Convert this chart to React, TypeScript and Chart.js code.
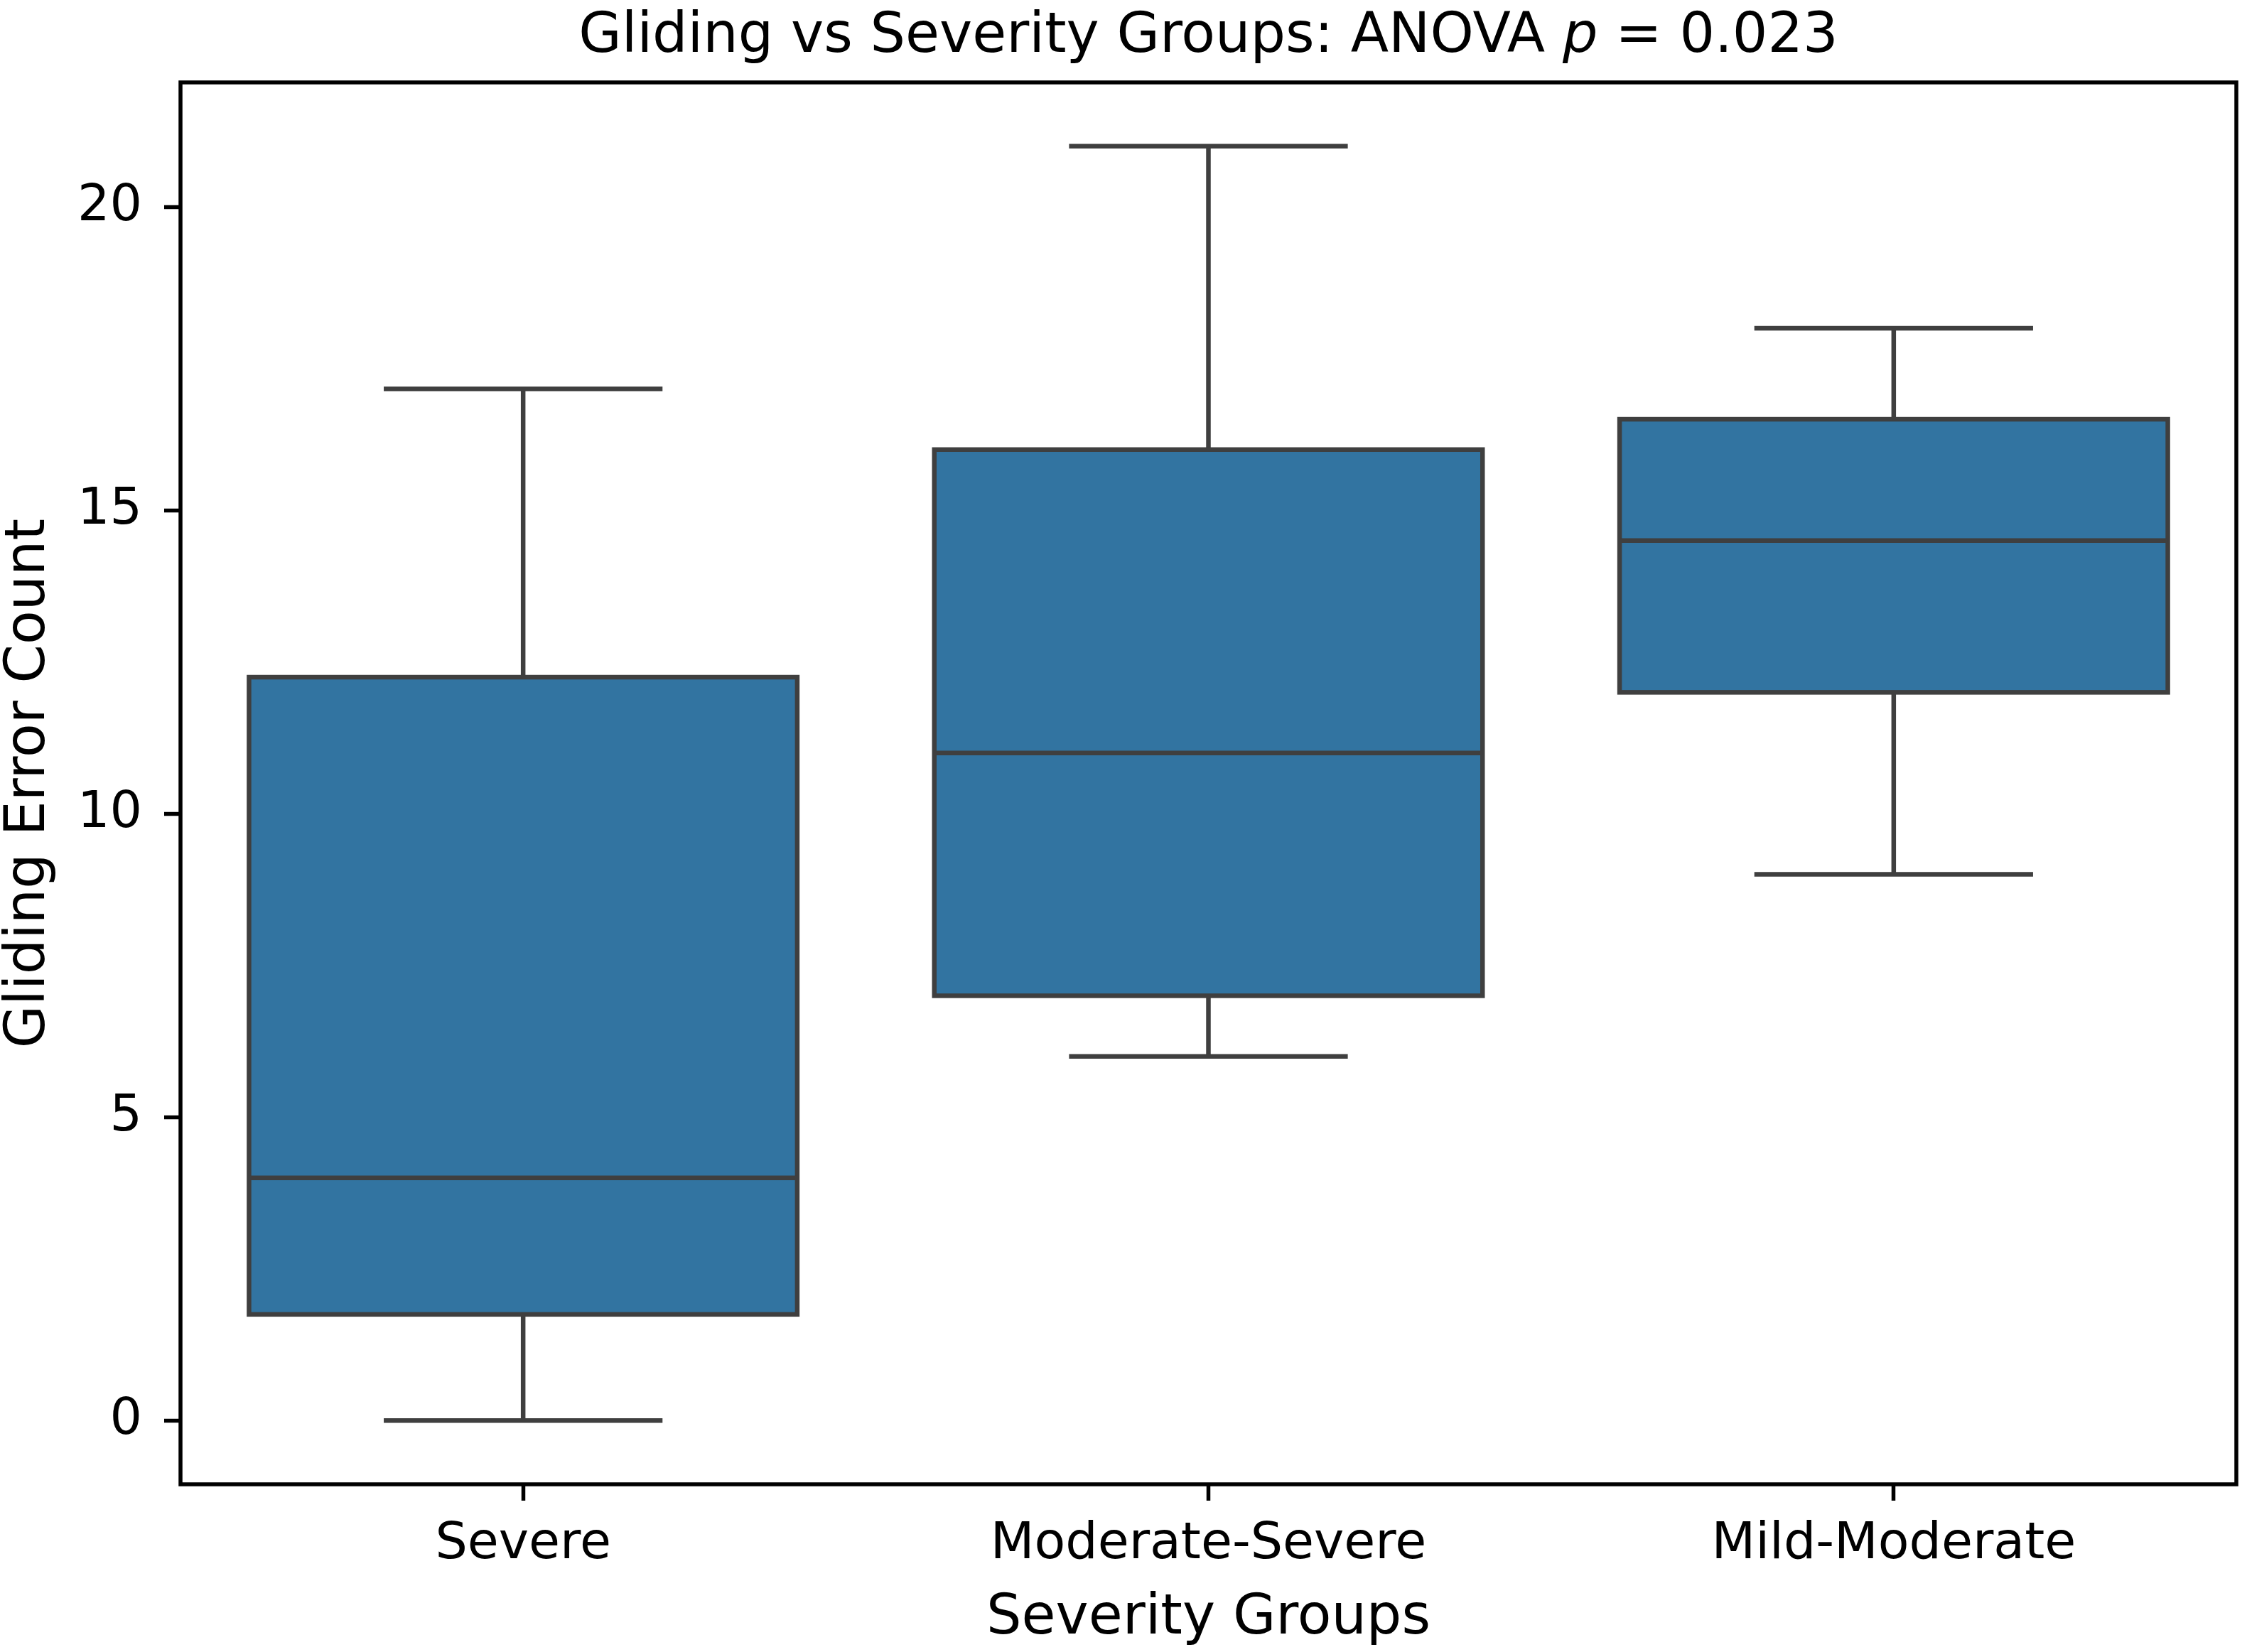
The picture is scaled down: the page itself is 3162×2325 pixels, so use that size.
import React, { useEffect, useRef } from 'react';
import { Chart, registerables } from 'chart.js';

Chart.register(...registerables);

// ---- data ----
const categories = ['Severe', 'Moderate-Severe', 'Mild-Moderate'];
const whiskerLow = [0, 6, 9];
const q1 = [1.75, 7, 12];
const median = [4, 11, 14.5];
const q3 = [12.25, 16, 16.5];
const whiskerHigh = [17, 21, 18];
const yTicks = [0, 5, 10, 15, 20];

const titleBefore = 'Gliding vs Severity Groups: ANOVA ';
const titleVar = 'p';
const titleAfter = ' = 0.023';
const xTitle = 'Severity Groups';
const yTitle = 'Gliding Error Count';

const W = 3162;
const H = 2325;
const FONT = '"DejaVu Sans", "Liberation Sans", sans-serif';
const BOX_FILL = '#3274a1';
const LINE = '#3f3f3f';
const TITLE_SIZE = 78;
const LABEL_SIZE = 78;
const TICK_SIZE = 71.5;

const boxPlugin = {
  id: 'boxWhiskers',
  afterDatasetsDraw(chart: any) {
    const { ctx, scales } = chart;
    const xs = scales.x;
    const ys = scales.y;
    const meta = chart.getDatasetMeta(0);
    ctx.save();
    ctx.strokeStyle = LINE;
    ctx.lineWidth = 6.5;
    categories.forEach((_, i) => {
      const el = meta.data[i];
      const cx = xs.getPixelForValue(i);
      const half = el.width / 2;
      const capHalf = half / 2;
      const yLo = ys.getPixelForValue(whiskerLow[i]);
      const yQ1 = ys.getPixelForValue(q1[i]);
      const yMed = ys.getPixelForValue(median[i]);
      const yQ3 = ys.getPixelForValue(q3[i]);
      const yHi = ys.getPixelForValue(whiskerHigh[i]);
      // whiskers
      ctx.lineCap = 'butt';
      ctx.beginPath();
      ctx.moveTo(cx, yQ3);
      ctx.lineTo(cx, yHi);
      ctx.moveTo(cx, yQ1);
      ctx.lineTo(cx, yLo);
      ctx.stroke();
      // caps
      ctx.lineCap = 'square';
      ctx.beginPath();
      ctx.moveTo(cx - capHalf, yHi);
      ctx.lineTo(cx + capHalf, yHi);
      ctx.moveTo(cx - capHalf, yLo);
      ctx.lineTo(cx + capHalf, yLo);
      ctx.stroke();
      // box outline
      ctx.lineCap = 'butt';
      ctx.lineJoin = 'miter';
      ctx.strokeRect(cx - half, yQ3, half * 2, yQ1 - yQ3);
      // median
      ctx.beginPath();
      ctx.moveTo(cx - half, yMed);
      ctx.lineTo(cx + half, yMed);
      ctx.stroke();
    });
    ctx.restore();
  },
  afterDraw(chart: any) {
    const { ctx, chartArea } = chart;
    ctx.save();
    // frame (all four spines)
    ctx.strokeStyle = '#000';
    ctx.lineWidth = 5.5;
    ctx.lineJoin = 'miter';
    ctx.strokeRect(chartArea.left, chartArea.top, chartArea.right - chartArea.left, chartArea.bottom - chartArea.top);
    // title with italic variable
    const normal = `${TITLE_SIZE}px ${FONT}`;
    const ital = `italic ${TITLE_SIZE}px ${FONT}`;
    const parts: [string, string][] = [
      [titleBefore, normal],
      [titleVar, ital],
      [titleAfter, normal],
    ];
    let total = 0;
    const widths = parts.map(([t, f]) => {
      ctx.font = f;
      const w = ctx.measureText(t).width;
      total += w;
      return w;
    });
    let x = (chartArea.left + chartArea.right) / 2 - total / 2;
    ctx.fillStyle = '#000';
    ctx.textBaseline = 'alphabetic';
    ctx.textAlign = 'left';
    parts.forEach(([t, f], i) => {
      ctx.font = f;
      ctx.fillText(t, x, 73);
      x += widths[i];
    });
    ctx.restore();
  },
};

export default function App() {
  const ref = useRef<HTMLCanvasElement>(null);
  useEffect(() => {
    const canvas = ref.current;
    if (!canvas) return;
    const chart = new Chart(canvas, {
      type: 'bar',
      data: {
        labels: categories,
        datasets: [
          {
            data: categories.map((_, i) => [q1[i], q3[i]]) as any,
            backgroundColor: BOX_FILL,
            borderWidth: 0,
            categoryPercentage: 0.8,
            barPercentage: 1.0,
          },
        ],
      },
      options: {
        responsive: false,
        animation: false,
        devicePixelRatio: 1,
        layout: { padding: { left: 0, top: 116, right: 15, bottom: 0 } },
        plugins: {
          legend: { display: false },
          tooltip: { enabled: false },
          title: { display: false },
        },
        scales: {
          x: {
            type: 'category',
            offset: true,
            grid: {
              offset: false,
              drawOnChartArea: false,
              drawTicks: true,
              tickLength: 23,
              tickWidth: 5.5,
              tickColor: '#000',
            },
            border: { display: false },
            ticks: {
              color: '#000',
              padding: 20,
              font: { family: FONT, size: TICK_SIZE },
              maxRotation: 0,
              autoSkip: false,
            },
            title: {
              display: true,
              text: xTitle,
              color: '#000',
              font: { family: FONT, size: LABEL_SIZE, lineHeight: 1 },
              padding: { top: 0, bottom: 7 },
            },
            afterFit(scale: any) {
              scale.height = H - 2089;
            },
          },
          y: {
            type: 'linear',
            min: -1.05,
            max: 22.05,
            grid: {
              drawOnChartArea: false,
              drawTicks: true,
              tickLength: 23,
              tickWidth: 5.5,
              tickColor: '#000',
            },
            border: { display: false },
            ticks: {
              color: '#000',
              padding: 31,
              font: { family: FONT, size: TICK_SIZE },
            },
            afterBuildTicks(scale: any) {
              scale.ticks = yTicks.map((v) => ({ value: v }));
            },
            title: {
              display: true,
              text: yTitle,
              color: '#000',
              font: { family: FONT, size: LABEL_SIZE, lineHeight: 1 },
              padding: { top: 3, bottom: 0 },
            },
            afterFit(scale: any) {
              scale.width = 254;
            },
          },
        },
      },
      plugins: [boxPlugin],
    });
    return () => chart.destroy();
  }, []);
  return (
    <div style={{ position: 'fixed', left: 0, top: 0, width: W, height: H, background: '#fff' }}>
      <canvas ref={ref} width={W} height={H} style={{ width: W, height: H, display: 'block' }} />
    </div>
  );
}
